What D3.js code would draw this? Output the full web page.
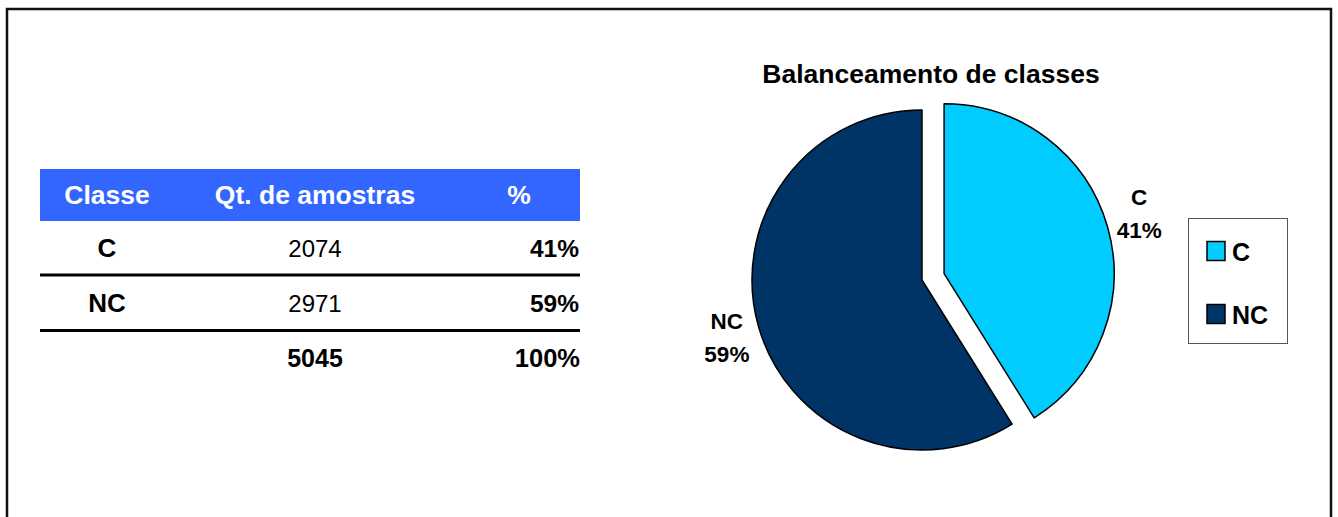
<!DOCTYPE html>
<html>
<head>
<meta charset="utf-8">
<script src="https://cdn.jsdelivr.net/npm/d3@7"></script>
<style>
  body { margin: 0; background: #fff; }
  svg text { font-family: "Liberation Sans", Arial, sans-serif; }
</style>
</head>
<body>
<div id="chart"></div>
<script>
// Datos de la tabla y del gráfico de torta
const classes = ["C", "NC"];
const amostras = [2074, 2971];
const cabecalho = ["Classe", "Qt. de amostras", "%"];
const cores = ["#00CCFF", "#003366"];
const titulo = "Balanceamento de classes";

const width = 1338;
const height = 517;

const total = d3.sum(amostras);
const pct = d3.format(".0%");

const svg = d3.select("#chart")
  .append("svg")
  .attr("width", width)
  .attr("height", height);

// Marco exterior
svg.append("rect")
  .attr("x", 7).attr("y", 9)
  .attr("width", 1324).attr("height", 600)
  .attr("fill", "none")
  .attr("stroke", "#111")
  .attr("stroke-width", 2.5);

// ---------- Tabla ----------
const tabela = { x0: 40, x1: 580 };
const colX = d3.scaleOrdinal().domain(cabecalho).range([107, 315, 519]);

svg.append("rect")
  .attr("x", tabela.x0).attr("y", 169)
  .attr("width", tabela.x1 - tabela.x0)
  .attr("height", 52)
  .attr("fill", "#3366FF");

svg.append("g")
  .selectAll("text")
  .data(cabecalho)
  .join("text")
  .attr("x", d => colX(d))
  .attr("y", 204)
  .attr("text-anchor", "middle")
  .attr("fill", "#fff")
  .attr("font-weight", "bold")
  .attr("font-size", 26.5)
  .text(d => d);

const linhas = classes.map((c, i) => ({ classe: c, n: amostras[i], p: amostras[i] / total }));
const baseY = d3.scaleOrdinal().domain([...classes, "total"]).range([257, 312, 367]);

const grupoLinhas = svg.append("g");
linhas.forEach(l => {
  grupoLinhas.append("text")
    .attr("x", colX("Classe")).attr("y", baseY(l.classe))
    .attr("text-anchor", "middle")
    .attr("font-weight", "bold").attr("font-size", 26)
    .text(l.classe);
  grupoLinhas.append("text")
    .attr("x", colX("Qt. de amostras")).attr("y", baseY(l.classe))
    .attr("text-anchor", "middle")
    .attr("font-size", 24)
    .text(l.n);
  grupoLinhas.append("text")
    .attr("x", 579).attr("y", baseY(l.classe))
    .attr("text-anchor", "end")
    .attr("font-weight", "bold").attr("font-size", 24.5)
    .text(pct(l.p));
});

// Linea de total
grupoLinhas.append("text")
  .attr("x", colX("Qt. de amostras")).attr("y", baseY("total"))
  .attr("text-anchor", "middle")
  .attr("font-weight", "bold").attr("font-size", 25)
  .text(total);
grupoLinhas.append("text")
  .attr("x", 580).attr("y", baseY("total"))
  .attr("text-anchor", "end")
  .attr("font-weight", "bold").attr("font-size", 25.5)
  .text(pct(1));

// Separadores
svg.append("g")
  .selectAll("line")
  .data([275, 330.5])
  .join("line")
  .attr("x1", tabela.x0).attr("x2", tabela.x1)
  .attr("y1", d => d).attr("y2", d => d)
  .attr("stroke", "#000")
  .attr("stroke-width", 3);

// ---------- Torta ----------
const cx = 922, cy = 280, raio = 170;
const explosao = [23, 0];

svg.append("text")
  .attr("x", 931).attr("y", 83)
  .attr("text-anchor", "middle")
  .attr("font-weight", "bold")
  .attr("font-size", 26.5)
  .text(titulo);

const pie = d3.pie().sort(null).value(d => d.n);
const arcos = pie(linhas);
const arco = d3.arc().innerRadius(0).outerRadius(raio);
const arcoRotulo = d3.arc().innerRadius(203).outerRadius(203);

const deslocamento = (d, i) => {
  const a = (d.startAngle + d.endAngle) / 2;
  return [Math.sin(a) * explosao[i], -Math.cos(a) * explosao[i]];
};

const fatias = svg.append("g")
  .attr("transform", `translate(${cx},${cy})`)
  .selectAll("g")
  .data(arcos)
  .join("g")
  .attr("transform", (d, i) => `translate(${deslocamento(d, i)})`);

fatias.append("path")
  .attr("d", arco)
  .attr("fill", (d, i) => cores[i])
  .attr("stroke", "#000")
  .attr("stroke-width", 1.5)
  .attr("stroke-linejoin", "round");

// ajuste fino vertical de cada rótulo
const ajusteRotulo = [-5, 1];
const rotulos = fatias.append("text")
  .attr("transform", (d, i) => {
    const [x, y] = arcoRotulo.centroid(d);
    return `translate(${x},${y + ajusteRotulo[i]})`;
  })
  .attr("text-anchor", "middle")
  .attr("font-weight", "bold")
  .attr("font-size", 22.5);
rotulos.append("tspan").attr("x", 0).attr("y", -8).text(d => d.data.classe);
rotulos.append("tspan").attr("x", 0).attr("y", 25).text(d => pct(d.data.p));

// ---------- Leyenda ----------
const legenda = svg.append("g");
legenda.append("rect")
  .attr("x", 1188.5).attr("y", 218.5)
  .attr("width", 99).attr("height", 125)
  .attr("fill", "#fff")
  .attr("stroke", "#555")
  .attr("stroke-width", 1);

const legY = d3.scalePoint().domain(classes).range([251, 314]);
const itens = legenda.selectAll("g.item")
  .data(classes)
  .join("g")
  .attr("class", "item")
  .attr("transform", d => `translate(1207,${legY(d)})`);
itens.append("rect")
  .attr("x", 0).attr("y", -9.5)
  .attr("width", 18).attr("height", 19)
  .attr("fill", (d, i) => cores[i])
  .attr("stroke", "#000")
  .attr("stroke-width", 1.5);
itens.append("text")
  .attr("x", 25).attr("y", 9.5)
  .attr("font-weight", "bold")
  .attr("font-size", 25)
  .text(d => d);
</script>
</body>
</html>
